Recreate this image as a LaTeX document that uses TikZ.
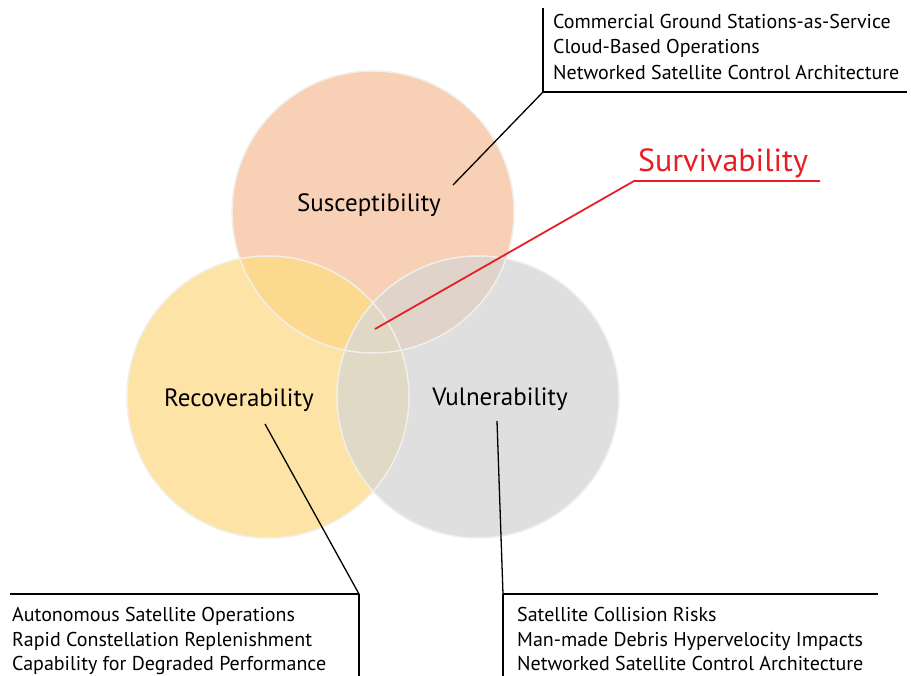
\documentclass[tikz,border=0pt]{standalone}
\usepackage{fontspec}
\setmainfont{PT Sans}
\usetikzlibrary{positioning}

\definecolor{susfill}{RGB}{248,208,182}
\definecolor{recfill}{RGB}{253,228,166}
\definecolor{vulfill}{RGB}{223,223,223}
\definecolor{srfill}{RGB}{251,217,143}
\definecolor{svfill}{RGB}{224,211,202}
\definecolor{rvfill}{RGB}{224,217,198}
\definecolor{allfill}{RGB}{224,215,196}
\definecolor{rimcol}{RGB}{242,239,234}
\definecolor{survred}{RGB}{232,30,37}

\begin{document}
\begin{tikzpicture}[x=1pt,y=-1pt]
        \useasboundingbox (0,0) rectangle (911,676);
        \coordinate (S) at (373,212);
        \coordinate (R) at (268,397);
        \coordinate (V) at (478,397);

        % circles and overlaps
        \fill[susfill] (S) circle[radius=141pt];
        \fill[recfill] (R) circle[radius=141pt];
        \fill[vulfill] (V) circle[radius=141pt];
        \begin{scope}
            \clip (S) circle[radius=141pt];
            \fill[srfill] (R) circle[radius=141pt];
            \fill[svfill] (V) circle[radius=141pt];
        \end{scope}
        \begin{scope}
            \clip (R) circle[radius=141pt];
            \fill[rvfill] (V) circle[radius=141pt];
            \clip (S) circle[radius=141pt];
            \fill[allfill] (V) circle[radius=141pt];
        \end{scope}
        \begin{scope}[draw=rimcol,line width=1.5pt]
            \draw (S) circle[radius=141pt];
            \draw (R) circle[radius=141pt];
            \draw (V) circle[radius=141pt];
        \end{scope}

        \begin{scope}[
            every node/.style={inner sep=0pt,font=\fontsize{25}{30}\selectfont}
        ]
            \node (sus) at (369,205) {Susceptibility};
            \node (rec) at (239,400) {Recoverability};
            \node (vul) at (500,399) {Vulnerability};
            \node[text=survred,font=\fontsize{32}{36}\selectfont] (surv) at (723,163) {Survivability};
        \end{scope}

        \begin{scope}[
            every node/.style={inner sep=0pt,anchor=north west,align=left,font=\fontsize{20}{25.5}\selectfont}
        ]
            \node (suslist) at (553,14) {Commercial Ground Stations-as-Service\\Cloud-Based Operations\\Networked Satellite Control Architecture};
        \end{scope}
        \begin{scope}[
            every node/.style={inner sep=0pt,anchor=north west,align=left,font=\fontsize{20}{24.5}\selectfont}
        ]
            \node (reclist) at (12,607.5) {Autonomous Satellite Operations\\Rapid Constellation Replenishment\\Capability for Degraded Performance};
            \node (vullist) at (517,607.5) {Satellite Collision Risks\\Man-made Debris Hypervelocity Impacts\\Networked Satellite Control Architecture};
        \end{scope}

        % leader corners
        \coordinate (susA) at (453,185);
        \coordinate (susB) at (543,92);
        \coordinate (susC) at (543,8);
        \coordinate (susD) at (907,92);
        \coordinate (recA) at (265,424);
        \coordinate (recB) at (359,594);
        \coordinate (recC) at (10,594);
        \coordinate (recD) at (359,676);
        \coordinate (vulA) at (497,421);
        \coordinate (vulB) at (503,594);
        \coordinate (vulC) at (878,594);
        \coordinate (vulD) at (503,676);
        \coordinate (survA) at (375,329);
        \coordinate (survB) at (634,181);
        \coordinate (survC) at (820,181);

        \begin{scope}[
            every edge/.style={draw=black,line width=1.3pt}
        ]
            \path [-] (susA) edge (susB);
            \path [-] (susC) edge (susB);
            \path [-] (susB) edge (susD);

            \path [-] (recA) edge (recB);
            \path [-] (recC) edge (recB);
            \path [-] (recB) edge (recD);

            \path [-] (vulA) edge (vulB);
            \path [-] (vulB) edge (vulC);
            \path [-] (vulB) edge (vulD);
        \end{scope}
        \draw[survred,line width=1.8pt] (survA) -- (survB) -- (survC);
    \end{tikzpicture}
\end{document}
